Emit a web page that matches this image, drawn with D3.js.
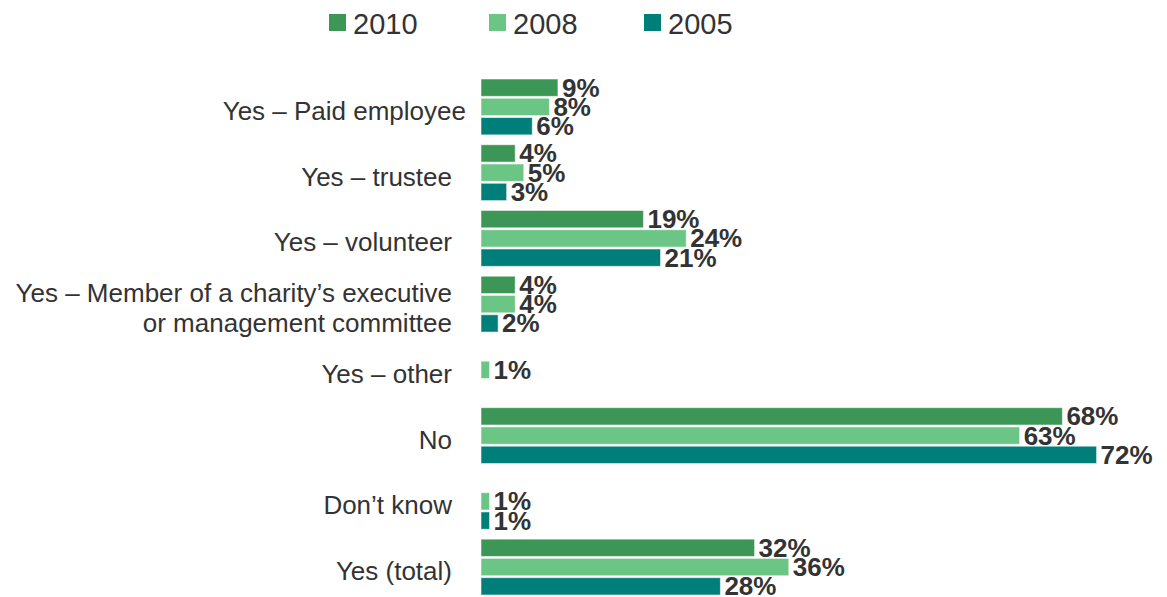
<!DOCTYPE html>
<html>
<head>
<meta charset="utf-8">
<script src="https://cdn.jsdelivr.net/npm/d3@7/dist/d3.min.js"></script>
<style>
  html, body { margin: 0; padding: 0; background: #ffffff; }
  svg { display: block; font-family: "Liberation Sans", Arial, Helvetica, sans-serif; }
</style>
</head>
<body>
<svg id="chart" width="1167" height="597"></svg>
<script>
// Involvement with charities: share of respondents by survey year
const categories = [
  "Yes – Paid employee",
  "Yes – trustee",
  "Yes – volunteer",
  "Yes – Member of a charity’s executive\nor management committee",
  "Yes – other",
  "No",
  "Don’t know",
  "Yes (total)"
];
const seriesNames = ["2010", "2008", "2005"];
const values2010 = [9, 4, 19, 4, null, 68, null, 32];
const values2008 = [8, 5, 24, 4, 1, 63, 1, 36];
const values2005 = [6, 3, 21, 2, null, 72, 1, 28];
const seriesColors = ["#3c9656", "#6bc584", "#007f7a"];

const seriesValues = [values2010, values2008, values2005];

const svg = d3.select("#chart");
const textColor = "#333333";

// Scales
const x = d3.scaleLinear().domain([0, 100]).range([481, 481 + 855]);
const yGroup = d3.scaleBand().domain(categories).range([79, 595]).paddingInner(0.15).paddingOuter(0);
const ySeries = d3.scaleBand().domain(seriesNames).range([0, yGroup.bandwidth()]).paddingInner(0.1);
const color = d3.scaleOrdinal().domain(seriesNames).range(seriesColors);

// Flat list of bars
const bars = [];
categories.forEach((cat, ci) => {
  seriesNames.forEach((s, si) => {
    const v = seriesValues[si][ci];
    if (v !== null && v !== undefined) bars.push({ cat, series: s, value: v });
  });
});

// Bars
svg.append("g").selectAll("rect")
  .data(bars)
  .join("rect")
  .attr("x", x(0))
  .attr("y", d => yGroup(d.cat) + ySeries(d.series))
  .attr("width", d => x(d.value) - x(0))
  .attr("height", ySeries.bandwidth())
  .attr("fill", d => color(d.series))
  .attr("stroke", "#ffffff")
  .attr("stroke-opacity", 0.55)
  .attr("stroke-width", 1);

// Value labels
svg.append("g").selectAll("text")
  .data(bars)
  .join("text")
  .attr("x", d => x(d.value) + 4)
  .attr("y", d => yGroup(d.cat) + ySeries(d.series) + ySeries.bandwidth() / 2 + 9)
  .attr("fill", textColor)
  .attr("font-size", 26)
  .attr("font-weight", "bold")
  .text(d => d.value + "%");

// Category labels (right aligned, wrapped on newline)
const catLabels = svg.append("g").selectAll("text")
  .data(categories)
  .join("text")
  .attr("text-anchor", "end")
  .attr("fill", textColor)
  .attr("font-size", 26);

catLabels.each(function(d, i) {
  const lines = d.split("\n");
  const lineH = 30;
  const cy = yGroup(d) + yGroup.bandwidth() / 2;
  const xr = i === 0 ? 466 : 452;
  const t = d3.select(this);
  lines.forEach((line, li) => {
    t.append("tspan")
      .attr("x", xr)
      .attr("y", cy + 13 + (li - (lines.length - 1) / 2) * lineH)
      .text(line);
  });
});

// Legend
const legendX = [329, 489, 644];
const legend = svg.append("g").selectAll("g")
  .data(seriesNames)
  .join("g")
  .attr("transform", (d, i) => `translate(${legendX[i]},14)`);
legend.append("rect")
  .attr("width", 17)
  .attr("height", 17)
  .attr("fill", d => color(d));
legend.append("text")
  .attr("x", 24)
  .attr("y", 19.5)
  .attr("fill", textColor)
  .attr("font-size", 29)
  .text(d => d);
</script>
</body>
</html>
